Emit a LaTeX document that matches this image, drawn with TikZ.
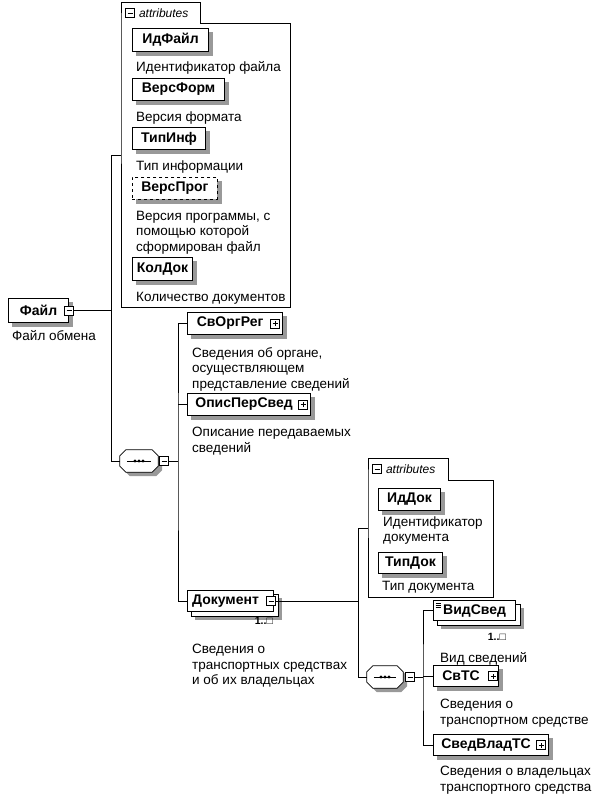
\documentclass[tikz,border=0pt]{standalone}
\usepackage{fontspec}
\setmainfont{Liberation Sans}
\usetikzlibrary{positioning, calc, backgrounds}

% octagon round a node, shifted down/right by #3
\newcommand{\octdraw}[3]{%
    \path[#1] ($(#2.north west)+(6+#3,#3)$) -- ($(#2.north east)+(-6+#3,#3)$) -- ($(#2.north east)+(#3,6+#3)$)
        -- ($(#2.south east)+(#3,-6+#3)$) -- ($(#2.south east)+(-6+#3,#3)$) -- ($(#2.south west)+(6+#3,#3)$)
        -- ($(#2.south west)+(#3,-6+#3)$) -- ($(#2.north west)+(#3,6+#3)$) -- cycle;}
% sequence compositor: octagon with a dotted bar
\newcommand{\seqshape}[1]{%
    \octdraw{shadowfill}{#1}{4}
    \octdraw{seqline}{#1}{0}
    \draw[line width=0.8pt] ($(#1.west)+(7,0)$) -- ($(#1.east)+(-7,0)$);
    \foreach \dx in {-4,0,4} \fill ($(#1.center)+(\dx,0)$) circle (1.6pt);}

\begin{document}
\begin{tikzpicture}[
    x=1pt, y=-1pt,
    shadowfill/.style={fill=black!40, draw=none},
    copybox/.style={draw=black, fill=white, line width=0.8pt},
    elem/.style={draw, line width=1.1pt, fill=white, anchor=north west, inner sep=0pt,
        font=\bfseries\fontsize{14}{16}\selectfont},
    xelem/.style={elem, execute at end node=\hspace{10pt}},
    optelem/.style={elem, dashed, line width=0.8pt},
    desc/.style={font=\fontsize{13.5}{15.5}\selectfont, align=left, inner sep=0pt},
    card/.style={font=\bfseries\fontsize{10.5}{13}\selectfont, inner sep=0pt},
    xbox/.style={draw, fill=white, line width=0.6pt, minimum size=9pt, inner sep=0pt},
    plusx/.style={xbox, path picture={
        \draw ([xshift=2pt]path picture bounding box.west) -- ([xshift=-2pt]path picture bounding box.east);
        \draw ([yshift=2pt]path picture bounding box.south) -- ([yshift=-2pt]path picture bounding box.north);}},
    minusx/.style={xbox, path picture={
        \draw ([xshift=2pt]path picture bounding box.west) -- ([xshift=-2pt]path picture bounding box.east);}},
    seq/.style={minimum width=38pt, minimum height=22pt, inner sep=0pt},
    seqline/.style={draw, line width=0.8pt, fill=white},
    grp/.style={line width=0.8pt},
    tabtext/.style={font=\itshape\fontsize{12}{14}\selectfont, inner sep=0pt},
    link/.style={line width=0.8pt},
]
\useasboundingbox (0,0) rectangle (595,796);

% Attribute group of the root element:
\node[anchor=north west, minimum width=169pt, minimum height=284pt, inner sep=0pt] (fattrs) at (121,23) {};
\draw[grp] (fattrs.south west) -- (fattrs.north west) -- ++(0,-21) -- ++(79,0) -- ++(0,21) -- (fattrs.north east) -- (fattrs.south east) -- cycle;
\node[minusx] (fattrsx) at ($(fattrs.north west)+(9,-10)$) {};
\node[tabtext, anchor=west] (fattrslbl) at ($(fattrsx.east)+(4,0)$) {attributes};
\coordinate (fattrsin) at ($(fattrs.north west)+(0,132)$);

\node[elem, minimum width=76pt, minimum height=23pt] (idfajl) at (132,28) {ИдФайл};
\node[desc, below right=9pt and 4pt of idfajl.south west] (idfajl-d) {Идентификатор файла};
\node[elem, minimum width=92pt, minimum height=22pt] (versform) at (132,78) {ВерсФорм};
\node[desc, below right=10pt and 4pt of versform.south west] (versform-d) {Версия формата};
\node[elem, minimum width=73pt, minimum height=22pt] (tipinf) at (132,127) {ТипИнф};
\node[desc, below right=10pt and 4pt of tipinf.south west] (tipinf-d) {Тип информации};
\node[optelem, minimum width=85pt, minimum height=22pt] (versprog) at (132,177) {ВерсПрог};
\node[desc, below right=11pt and 4pt of versprog.south west] (versprog-d) {Версия программы, с\\помощью которой\\сформирован файл};
\node[elem, minimum width=60pt, minimum height=23pt] (koldok) at (132,257) {КолДок};
\node[desc, below right=11pt and 4pt of koldok.south west] (koldok-d) {Количество документов};

% Root element:
\node[elem, minimum width=60pt, minimum height=24pt] (fajl) at (8,298) {Файл};
\node[minusx] (fajlx) at (fajl.east) {};
\node[desc, below right=7pt and 4pt of fajl.south west] (fajl-d) {Файл обмена};
\coordinate (bus1) at ($(fajlx.east)+(37.5,0)$);

% Sequence of the root element:
\node[seq] (seq1) at (139,461) {};
\seqshape{seq1}
\node[minusx] (seq1x) at ($(seq1.east)+(6,0)$) {};
\coordinate (bus2) at ($(seq1x.east)+(9,0)$);

\node[xelem, minimum width=95pt, minimum height=22pt] (svorgreg) at (187,312) {СвОргРег};
\node[plusx] (svorgregx) at ($(svorgreg.east)+(-8,0)$) {};
\node[desc, below right=12pt and 5pt of svorgreg.south west] (svorgreg-d) {Сведения об органе,\\осуществляющем\\представление сведений};
\node[xelem, minimum width=123pt, minimum height=22pt] (opisper) at (187,393) {ОписПерСвед};
\node[plusx] (opisperx) at ($(opisper.east)+(-8,0)$) {};
\node[desc, below right=11pt and 5pt of opisper.south west] (opisper-d) {Описание передаваемых\\сведений};
\node[xelem, minimum width=86pt, minimum height=21pt] (dokument) at (187,590) {Документ};
\node[minusx] (dokumentx) at ($(dokument.east)+(-3,0)$) {};
\node[card, below left=5pt and 1pt of dokument.south east] (dokument-c) {1..□};
\node[desc, below right=32pt and 5pt of dokument.south west] (dokument-d) {Сведения о\\транспортных средствах\\и об их владельцах};
\coordinate (bus3) at ($(dokumentx.east)+(82.5,0)$);

% Attribute group of Документ:
\node[anchor=north west, minimum width=125pt, minimum height=117pt, inner sep=0pt] (dattrs) at (368,480) {};
\draw[grp] (dattrs.south west) -- (dattrs.north west) -- ++(0,-22) -- ++(80,0) -- ++(0,22) -- (dattrs.north east) -- (dattrs.south east) -- cycle;
\node[minusx] (dattrsx) at ($(dattrs.north west)+(9,-11)$) {};
\node[tabtext, anchor=west] (dattrslbl) at ($(dattrsx.east)+(4,0)$) {attributes};
\coordinate (dattrsin) at ($(dattrs.north west)+(0,48)$);

\node[elem, minimum width=62pt, minimum height=22pt] (iddok) at (378,488) {ИдДок};
\node[desc, below right=5pt and 5pt of iddok.south west] (iddok-d) {Идентификатор\\документа};
\node[elem, minimum width=64pt, minimum height=21pt] (tipdok) at (378,552) {ТипДок};
\node[desc, below right=7pt and 4pt of tipdok.south west] (tipdok-d) {Тип документа};

% Sequence of Документ:
\node[seq, minimum width=36pt] (seq2) at (385,677) {};
\seqshape{seq2}
\node[minusx] (seq2x) at ($(seq2.east)+(7,0)$) {};
\coordinate (bus4) at ($(seq2x.east)+(8,0)$);

\node[elem, minimum width=82pt, minimum height=20pt] (vidsved) at (433,600) {ВидСвед};
\foreach \dy in {3,5,7}
    \draw[line width=0.5pt] ($(vidsved.north west)+(2.5,\dy)$) -- ++(5,0);
\node[card, below left=12pt and 10pt of vidsved.south east] (vidsved-c) {1..□};
\node[desc, below right=31pt and 7pt of vidsved.south west] (vidsved-d) {Вид сведений};
\node[xelem, minimum width=65pt, minimum height=21pt] (svts) at (433,665) {СвТС};
\node[plusx] (svtsx) at ($(svts.east)+(-6,0)$) {};
\node[desc, below right=12pt and 7pt of svts.south west] (svts-d) {Сведения о\\транспортном средстве};
\node[xelem, minimum width=115pt, minimum height=21pt] (svedvladts) at (433,734) {СведВладТС};
\node[plusx] (svedvladtsx) at ($(svedvladts.east)+(-8,0)$) {};
\node[desc, below right=10pt and 7pt of svedvladts.south west] (svedvladts-d) {Сведения о владельцах\\транспортного средства};

% Shadows, and the stacked copies of the repeated elements:
\begin{scope}[on background layer]
    \foreach \n in {idfajl, versform, tipinf, versprog, koldok, fajl, svorgreg, opisper, iddok, tipdok, svts, svedvladts}
        \fill[shadowfill] ($(\n.north west)+(4,4)$) rectangle ($(\n.south east)+(4,4)$);
    \foreach \n in {dokument, vidsved} {
        \fill[shadowfill] ($(\n.north west)+(8,8)$) rectangle ($(\n.south east)+(8,8)$);
        \draw[copybox] ($(\n.north west)+(4,4)$) rectangle ($(\n.south east)+(4,4)$);
    }
\end{scope}

% Connectors:
\draw[link] (fajlx.east) -- (bus1);
\draw[link] (fattrsin) -| (bus1) |- (seq1.west);
\draw[link] (seq1x.east) -- (bus2);
\draw[link] (svorgreg.west) -| (bus2) |- (dokument.west);
\draw[link] (opisper.west) -- (opisper.west -| bus2);
\draw[link] (dokumentx.east) -- (bus3);
\draw[link] (dattrsin) -| (bus3) |- (seq2.west);
\draw[link] (seq2x.east) -- (bus4);
\draw[link] (vidsved.west) -| (bus4) |- (svedvladts.west);
\draw[link] (svts.west) -- (svts.west -| bus4);
\end{tikzpicture}
\end{document}
